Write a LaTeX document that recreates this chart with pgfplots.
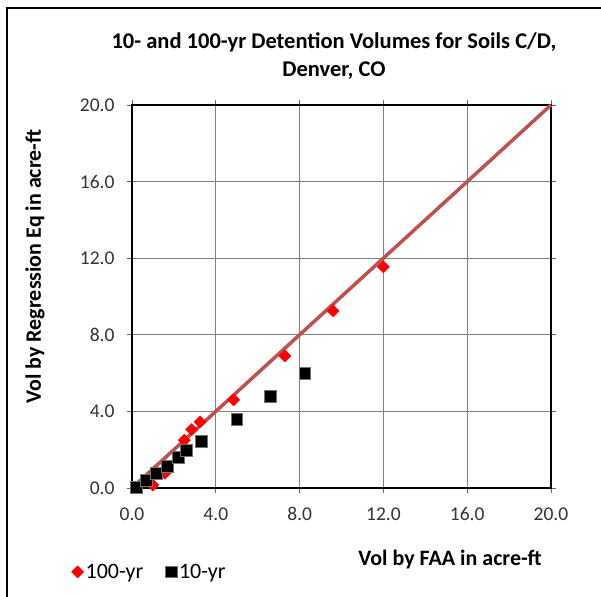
\documentclass[border=0pt]{standalone}
\usepackage{fontspec}
\setmainfont{Carlito}
\usepackage{pgfplots}
\pgfplotsset{compat=1.18}
\definecolor{lineRed}{RGB}{192,80,77}
\begin{document}
\begin{tikzpicture}
\useasboundingbox (0pt,0pt) rectangle (601pt,596pt);
\draw[line width=2.5pt] (7pt,-5pt) -- (7pt,588pt) -- (610pt,588pt);
\begin{axis}[
  at={(132pt,108pt)}, anchor=south west,
  scale only axis, width=419pt, height=383pt,
  xmin=0, xmax=20, ymin=0, ymax=20,
  xtick={0,4,...,20}, ytick={0,4,...,20},
  grid=major,
  grid style={draw=black!50, line width=0.8pt},
  axis line style={black, line width=1.3pt},
  tick align=outside, tick style={black!60, line width=0.8pt},
  major tick length=5pt,
  /pgf/number format/assume math mode=true,
  /pgf/number format/.cd, fixed, fixed zerofill, precision=1,
  /pgfplots/.cd,
  ticklabel style={font=\fontsize{19.5}{21}\selectfont, text=black!80},
  xticklabel style={yshift=-11pt},
  yticklabel style={xshift=-9pt},
  clip=false,
  legend style={at={(-0.152,-0.219)}, anchor=west, draw=none, fill=none,
    font=\fontsize{22}{24}\selectfont, legend columns=2,
    /tikz/every even column/.append style={column sep=20pt}},
  legend cell align=left,
]
\addplot[only marks, mark=square*, mark size=4.3pt, color=red,
  mark options={rotate=45, fill=red, draw=red}] coordinates {
  (1.0,0.15) (1.57,0.77) (2.5,2.5) (2.85,3.05) (3.25,3.45)
  (4.85,4.6) (7.3,6.9) (9.6,9.25) (12.0,11.55)
};
\addlegendentry{100-yr}
\addplot[only marks, mark=square*, mark size=5.9pt, color=black,
  mark options={fill=black, draw=black!55, line width=0.6pt}] coordinates {
  (0.2,0.05) (0.7,0.4) (1.15,0.75) (1.7,1.15) (2.2,1.6) (2.6,1.95)
  (3.3,2.45) (5.0,3.6) (6.6,4.8) (8.25,6.0)
};
\addlegendentry{10-yr}
\addplot[lineRed, line width=3.5pt, forget plot] coordinates {(0,0) (20,20)};
\node[font=\bfseries\fontsize{22.5}{28}\selectfont, align=center]
  at (axis description cs:0.482,1.128) {10- and 100-yr Detention Volumes for Soils C/D,\\Denver, CO};
\node[font=\bfseries\fontsize{22}{24}\selectfont]
  at (axis description cs:0.759,-0.186) {Vol by FAA in acre-ft};
\node[font=\bfseries\fontsize{22}{24}\selectfont, rotate=90]
  at (axis description cs:-0.2315,0.578) {Vol by Regression Eq in acre-ft};
\end{axis}
\end{tikzpicture}
\end{document}
